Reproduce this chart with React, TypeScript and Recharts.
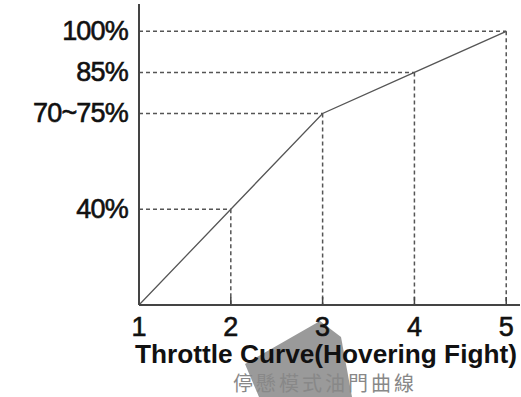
import { LineChart, Line, XAxis, YAxis, ReferenceLine } from "recharts";

const STEPS = [1, 2, 3, 4, 5];
const THROTTLE = [0, 35, 70, 85, 100];
const Y_TICKS = [35, 70, 85, 100];
const Y_LABELS = ["40%", "70~75%", "85%", "100%"];
const TITLE = "Throttle Curve(Hovering Fight)";
const SUBTITLE = "停懸模式油門曲線";

const data = STEPS.map((s, i) => ({ step: s, value: THROTTLE[i] }));

const FONT = "'Liberation Sans', Arial, sans-serif";

function YTick(props: any) {
  const { x, y, payload } = props;
  const idx = Y_TICKS.indexOf(payload.value);
  return (
    <text
      x={x - 11}
      y={y}
      textAnchor="end"
      dominantBaseline="central"
      fontFamily={FONT}
      fontSize={27}
      letterSpacing={-0.8}
      fill="#111"
      stroke="#111"
      strokeWidth={0.6}
    >
      {Y_LABELS[idx]}
    </text>
  );
}

function XTick(props: any) {
  const { x, y, payload } = props;
  return (
    <g>
      {payload.value > 1 && (
        <line x1={x} x2={x} y1={y - 8} y2={y} stroke="#444" strokeWidth={1.5} />
      )}
      <text
        x={x}
        y={y + 31}
        textAnchor="middle"
        fontFamily={FONT}
        fontSize={27}
        fill="#111"
        stroke="#111"
        strokeWidth={0.6}
      >
        {payload.value}
      </text>
    </g>
  );
}

export default function App() {
  return (
    <div style={{ position: "absolute", left: 0, top: 0, width: 521, height: 397, background: "#fff" }}>
      <svg width={521} height={397} style={{ position: "absolute", left: 0, top: 0 }}>
        <polygon points="320,321 341,337 352,397 259,397 245,364" fill="#9a9a9a" />
      </svg>
      <div style={{ position: "absolute", left: 0, top: 0 }}>
        <LineChart width={521} height={397} data={data} margin={{ top: 4, right: 1, left: 0, bottom: 0 }}>
          <XAxis
            dataKey="step"
            type="number"
            domain={[1, 5.15]}
            ticks={STEPS}
            allowDataOverflow
            height={92}
            tickSize={0}
            tickMargin={0}
            tickLine={false}
            axisLine={{ stroke: "#444", strokeWidth: 2 }}
            tick={<XTick />}
          />
          <YAxis
            type="number"
            domain={[0, 110]}
            ticks={Y_TICKS}
            allowDataOverflow
            width={139}
            tickSize={0}
            tickMargin={0}
            tickLine={false}
            axisLine={{ stroke: "#444", strokeWidth: 2 }}
            tick={<YTick />}
          />
          {data.slice(1).map((d) => (
            <ReferenceLine
              key={"h" + d.step}
              segment={[{ x: 1, y: d.value }, { x: d.step, y: d.value }]}
              stroke="#555"
              strokeWidth={1.5}
              strokeDasharray="4 3"
            />
          ))}
          {data.slice(1).map((d) => (
            <ReferenceLine
              key={"v" + d.step}
              segment={[{ x: d.step, y: d.value }, { x: d.step, y: 0 }]}
              stroke="#555"
              strokeWidth={1.5}
              strokeDasharray="4 3"
            />
          ))}
          <Line
            type="linear"
            dataKey="value"
            stroke="#555"
            strokeWidth={1.3}
            dot={false}
            isAnimationActive={false}
          />
        </LineChart>
      </div>
      <svg width={521} height={397} style={{ position: "absolute", left: 0, top: 0, pointerEvents: "none" }}>
        <text
          x={135}
          y={363}
          textLength={382}
          lengthAdjust="spacingAndGlyphs"
          fontFamily={FONT}
          fontWeight="bold"
          fontSize={25}
          fill="#111"
        >
          {TITLE}
        </text>
        <text
          x={325}
          y={391}
          textAnchor="middle"
          fontFamily="'Noto Sans CJK TC', sans-serif"
          fontSize={20}
          letterSpacing={3}
          fill="#888"
        >
          {SUBTITLE}
        </text>
      </svg>
    </div>
  );
}
